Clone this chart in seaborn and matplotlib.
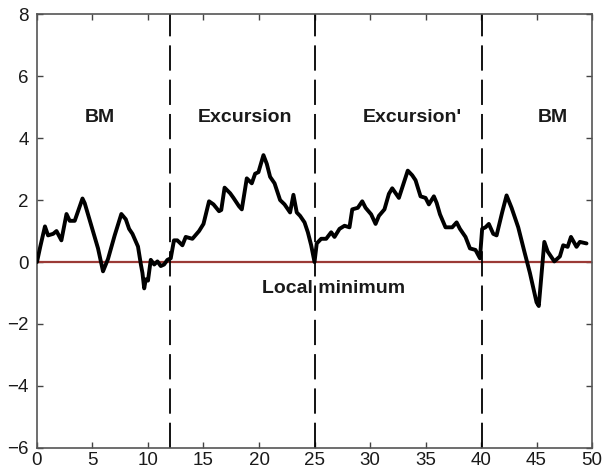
import matplotlib
matplotlib.use("Agg")
import matplotlib.pyplot as plt
import seaborn as sns
import pandas as pd

path_x = [0, 0.3, 0.72, 1.0, 1.46, 1.76, 2.2, 2.66, 2.95, 3.4, 4.1, 4.3, 4.9, 5.5, 5.95, 6.4,
          7.0, 7.6, 8.0, 8.3, 8.6, 9.1, 9.36, 9.5, 9.66, 9.8, 10.0, 10.25, 10.56, 10.85, 11.15,
          11.45, 11.75, 12.05, 12.34, 12.64, 13.1, 13.4, 14.0, 14.6, 15.0, 15.5, 15.9, 16.4,
          16.6, 16.9, 17.4, 17.7, 18.2, 18.45, 18.9, 19.35, 19.65, 19.95, 20.4, 20.7, 21.0,
          21.4, 21.9, 22.3, 22.8, 23.1, 23.4, 23.7, 24.1, 24.4, 24.7, 25.0, 25.2, 25.6, 26.05,
          26.5, 26.8, 27.25, 27.7, 28.15, 28.4, 28.9, 29.3, 29.6, 30.1, 30.5, 30.8, 31.3, 31.7,
          32.0, 32.6, 33.4, 33.8, 34.1, 34.55, 35.0, 35.3, 35.75, 36.0, 36.3, 36.8, 37.4, 37.8,
          38.1, 38.6, 39.0, 39.5, 39.9, 40.1, 40.4, 40.7, 41.1, 41.4, 41.9, 42.3, 42.75, 43.35,
          43.9, 44.4, 45.0, 45.2, 45.4, 45.7, 46.0, 46.6, 47.1, 47.4, 47.8, 48.1, 48.6, 48.9, 49.5]
path_y = [0, 0.5, 1.15, 0.86, 0.91, 1.0, 0.7, 1.55, 1.33, 1.33, 2.05, 1.9, 1.17, 0.44, -0.3, 0.1,
          0.86, 1.55, 1.38, 1.07, 0.91, 0.5, -0.08, -0.35, -0.85, -0.56, -0.6, 0.07, -0.08, 0.02, -0.13,
          -0.08, 0.07, 0.12, 0.7, 0.7, 0.54, 0.81, 0.75, 1.0, 1.23, 1.96, 1.86, 1.64,
          1.68, 2.4, 2.22, 2.07, 1.8, 1.7, 2.7, 2.54, 2.85, 2.9, 3.45, 3.17, 2.75,
          2.54, 2.0, 1.86, 1.6, 2.17, 1.6, 1.49, 1.28, 0.96, 0.54, 0.0, 0.6, 0.75, 0.75,
          0.96, 0.81, 1.07, 1.17, 1.12, 1.7, 1.75, 1.96, 1.75, 1.54, 1.23, 1.49, 1.7, 2.2,
          2.38, 2.07, 2.95, 2.8, 2.64, 2.12, 2.07, 1.86, 2.12, 1.91, 1.54, 1.12, 1.12, 1.28,
          1.07, 0.81, 0.44, 0.39, 0.12, 1.07, 1.12, 1.23, 0.91, 0.86, 1.6, 2.15, 1.75, 1.12,
          0.34, -0.35, -1.3, -1.42, -0.6, 0.65, 0.34, 0.02, 0.18, 0.54, 0.49, 0.81, 0.49, 0.65, 0.6]

split_x = [12, 25, 40.1]
region_labels = ["BM", "Excursion", "Excursion'", "BM"]
region_label_x = [5.7, 18.7, 33.8, 46.5]
region_label_y = 4.65
min_label = "Local minimum"
min_label_x = 26.7
min_label_y = -0.84
x_ticks = list(range(0, 51, 5))
y_ticks = list(range(-6, 9, 2))

sns.set_theme(style="white")
plt.rcParams['font.family'] = ['Liberation Sans', 'DejaVu Sans']

fig = plt.figure(figsize=(6.06, 4.72), dpi=100)
ax = fig.add_axes([0.061, 0.051, 0.916, 0.919])

df = pd.DataFrame({"t": path_x, "v": path_y})
ax.axhline(0, color="#9b3a36", lw=1.6, zorder=1)
for sx in split_x:
    ax.axvline(sx, color="black", lw=1.3, dashes=(14, 5), zorder=2)
sns.lineplot(data=df, x="t", y="v", color="black", lw=2.8, estimator=None, sort=False, ax=ax, zorder=3)

for lab, lx in zip(region_labels, region_label_x):
    ax.text(lx, region_label_y, lab, ha="center", va="center", fontsize=14, fontweight="bold",
            color="#1a1a1a")
ax.text(min_label_x, min_label_y, min_label, ha="center", va="center", fontsize=14,
        fontweight="bold", color="#1a1a1a")

ax.set_xlim(0, 50)
ax.set_ylim(-6, 8)
ax.set_xticks(x_ticks)
ax.set_yticks(y_ticks)
ax.set_yticklabels([str(v).replace("-", "\u2212") for v in y_ticks])
ax.set_xlabel("")
ax.set_ylabel("")
ax.tick_params(direction="in", length=4, width=1, colors="#444444", labelcolor="#1a1a1a",
               labelsize=13.5, top=True, right=True, bottom=True, left=True)
ax.tick_params(axis="x", pad=3)
ax.tick_params(axis="y", pad=6)
for s in ax.spines.values():
    s.set_color("#555555")
    s.set_linewidth(1.2)

fig.savefig("out.png", dpi=100)
